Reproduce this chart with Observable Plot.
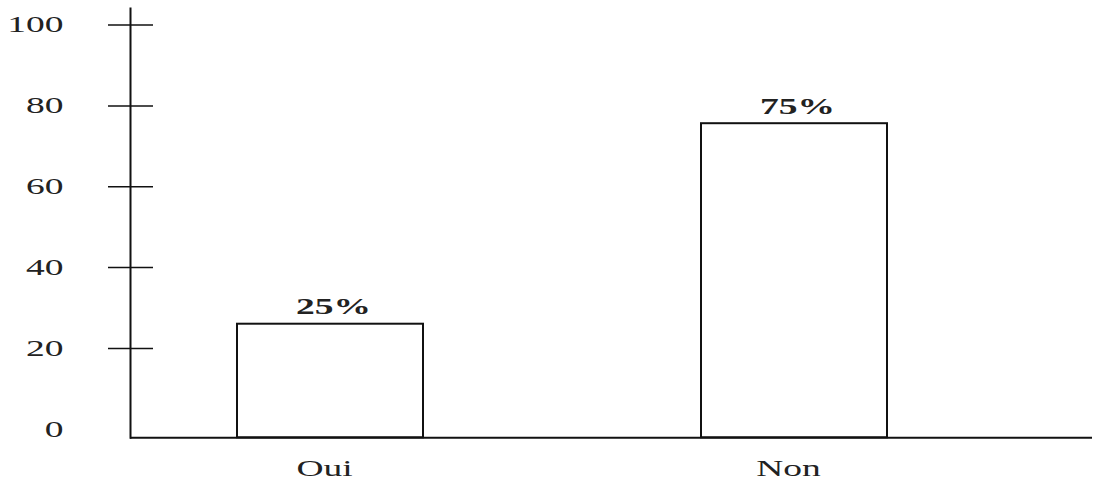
<!DOCTYPE html>
<html>
<head>
<meta charset="utf-8">
<script src="https://cdn.jsdelivr.net/npm/d3@7"></script>
<script src="https://cdn.jsdelivr.net/npm/@observablehq/plot@0.6"></script>
<style>
  html, body { margin: 0; padding: 0; background: #fff; }
  svg { font-family: "Liberation Serif", "DejaVu Serif", serif; }
</style>
</head>
<body>
<div id="chart"></div>
<script>
const categories = ["Oui", "Non"];
const values = [26, 75.6];
const valueLabels = ["25%", "75%"];
const yTicks = [0, 20, 40, 60, 80, 100];
const yDomain = [-2.1, 104.1];

const data = categories.map((c, i) => ({cat: c, value: values[i], label: valueLabels[i]}));
const base = yDomain[0];

const chart = Plot.plot({
  width: 1103,
  height: 481,
  marginTop: 8,
  marginBottom: 43.7,
  marginLeft: 130,
  marginRight: 11,
  style: {fontFamily: "Liberation Serif", color: "#222", background: "#fff"},
  x: {domain: categories, paddingInner: 0.6, paddingOuter: 0.336, align: 0.342},
  y: {domain: yDomain},
  marks: [
    Plot.barY(data, {x: "cat", y1: () => base, y2: "value", fill: "white", stroke: "#111", strokeWidth: 2}),
    Plot.ruleY([base], {stroke: "#111", strokeWidth: 2}),
    Plot.frame({anchor: "left", stroke: "#111", strokeWidth: 2}),
    Plot.axisY({ticks: yTicks, tickSize: 0, tickPadding: 67, label: null, fontSize: 23, fill: "#222"}),
    Plot.axisY({ticks: yTicks.filter(d => d > 0), tickSize: 45, dx: 23, text: null, label: null, stroke: "#111", strokeWidth: 1.5}),
    Plot.axisX({tickSize: 0, tickPadding: 22, label: null, fontSize: 23, fill: "#222", dx: -6}),
    Plot.text(data, {x: "cat", y: "value", text: "label", dy: -10, lineAnchor: "bottom", fontSize: 23, fontWeight: "bold", fill: "#222", dx: 3})
  ]
});
document.getElementById("chart").appendChild(chart);
chart.querySelectorAll("text").forEach(el => {
  const len = el.getComputedTextLength();
  if (len > 0) {
    el.setAttribute("textLength", len * 1.63);
    el.setAttribute("lengthAdjust", "spacingAndGlyphs");
  }
});
</script>
</body>
</html>
